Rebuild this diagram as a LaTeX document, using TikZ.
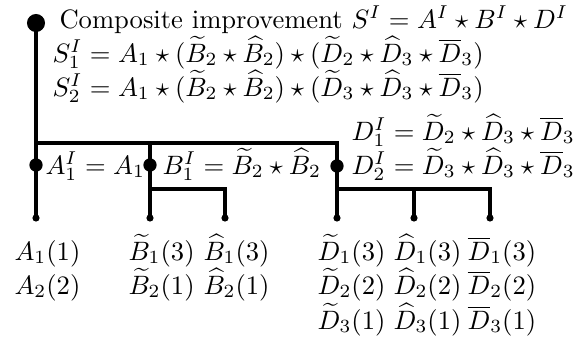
\documentclass[tikz,border=0pt]{standalone}
\usepackage{amssymb}
\usepackage{amsmath}
\begin{document}
\begin{tikzpicture}[x=0.376pt,y=0.376pt,yscale=-1,xscale=1,
  rootdot/.style={circle,fill=black,inner sep=0pt,minimum size=6.8pt},
  middot/.style={circle,fill=black,inner sep=0pt,minimum size=5pt},
  leafdot/.style={circle,fill=black,inner sep=0pt,minimum size=2.7pt},
  branch/.style={line width=1.2pt},
  lbl/.style={anchor=base west,inner sep=0pt}]
\useasboundingbox (0,0) rectangle (573,343);

% Dots
\node [rootdot] (root) at (36,23) {};
\node [middot] (adot) at (36,165) {};
\node [middot] (bdot) at (150,165) {};
\node [middot] (ddot) at (337,166) {};
\node [leafdot] (aleaf) at (36,218) {};
\node [leafdot] (bleaf1) at (150,218) {};
\node [leafdot] (bleaf2) at (225,218) {};
\node [leafdot] (dleaf1) at (337,218) {};
\node [leafdot] (dleaf2) at (414,218) {};
\node [leafdot] (dleaf3) at (490,218) {};

% Junctions
\coordinate (jA) at (36,143);
\coordinate (jB) at (150,143);
\coordinate (jD) at (337,143);
\coordinate (jBsub) at (150,189);
\coordinate (jDsub) at (337,189);
\coordinate (jDmid) at (414,189);

% Branches
\draw [branch] (root.center) -- (adot.center) -- (aleaf.center) ;
\draw [branch] (jA) -- (jD) -- (ddot.center) -- (dleaf1.center) ;
\draw [branch] (jB) -- (bdot.center) -- (bleaf1.center) ;
\draw [branch] (jBsub) -| (bleaf2.center) ;
\draw [branch] (jDsub) -| (dleaf3.center) ;
\draw [branch] (jDmid) -- (dleaf2.center) ;

% Text Node
\node [lbl] (title) at (59,28) {Composite improvement $S^I = A^I \star B^I \star D^I$};
% Text Node
\node [lbl] (sone) at (52,62) {$S^I_1 = A_1 \star (\widetilde{B}_2 \star \widehat{B}_2) \star (\widetilde{D}_2 \star \widehat{D}_3 \star \overline{D}_3)$};
% Text Node
\node [lbl] (stwo) at (52,96) {$S^I_2 = A_1 \star (\widetilde{B}_2 \star \widehat{B}_2) \star (\widetilde{D}_3 \star \widehat{D}_3 \star \overline{D}_3)$};
% Text Node
\node [lbl] (done) at (351,140) {$D^I_1 = \widetilde{D}_2 \star \widehat{D}_3 \star \overline{D}_3$};
% Text Node
\node [lbl] (dtwo) at (351,174) {$D^I_2 = \widetilde{D}_3 \star \widehat{D}_3 \star \overline{D}_3$};
% Text Node
\node [lbl] (aone) at (45,174) {$A^I_1 = A_1$};
% Text Node
\node [lbl] (bone) at (162,174) {$B^I_1 = \widetilde{B}_2 \star \widehat{B}_2$};

% Leaf labels
\node [lbl] (aa1) at (14,260) {$A_1(1)$};
\node [lbl] (aa2) at (14,294) {$A_2(2)$};
\node [lbl] (bt1) at (128,260) {$\widetilde{B}_1(3)$};
\node [lbl] (bt2) at (128,294) {$\widetilde{B}_2(1)$};
\node [lbl] (bh1) at (203,260) {$\widehat{B}_1(3)$};
\node [lbl] (bh2) at (203,294) {$\widehat{B}_2(1)$};
\node [lbl] (dt1) at (317,260) {$\widetilde{D}_1(3)$};
\node [lbl] (dt2) at (317,294) {$\widetilde{D}_2(2)$};
\node [lbl] (dt3) at (317,329) {$\widetilde{D}_3(1)$};
\node [lbl] (dh1) at (393,260) {$\widehat{D}_1(3)$};
\node [lbl] (dh2) at (393,294) {$\widehat{D}_2(2)$};
\node [lbl] (dh3) at (393,329) {$\widehat{D}_3(1)$};
\node [lbl] (db1) at (467,260) {$\overline{D}_1(3)$};
\node [lbl] (db2) at (467,294) {$\overline{D}_2(2)$};
\node [lbl] (db3) at (467,329) {$\overline{D}_3(1)$};

\end{tikzpicture}
\end{document}
